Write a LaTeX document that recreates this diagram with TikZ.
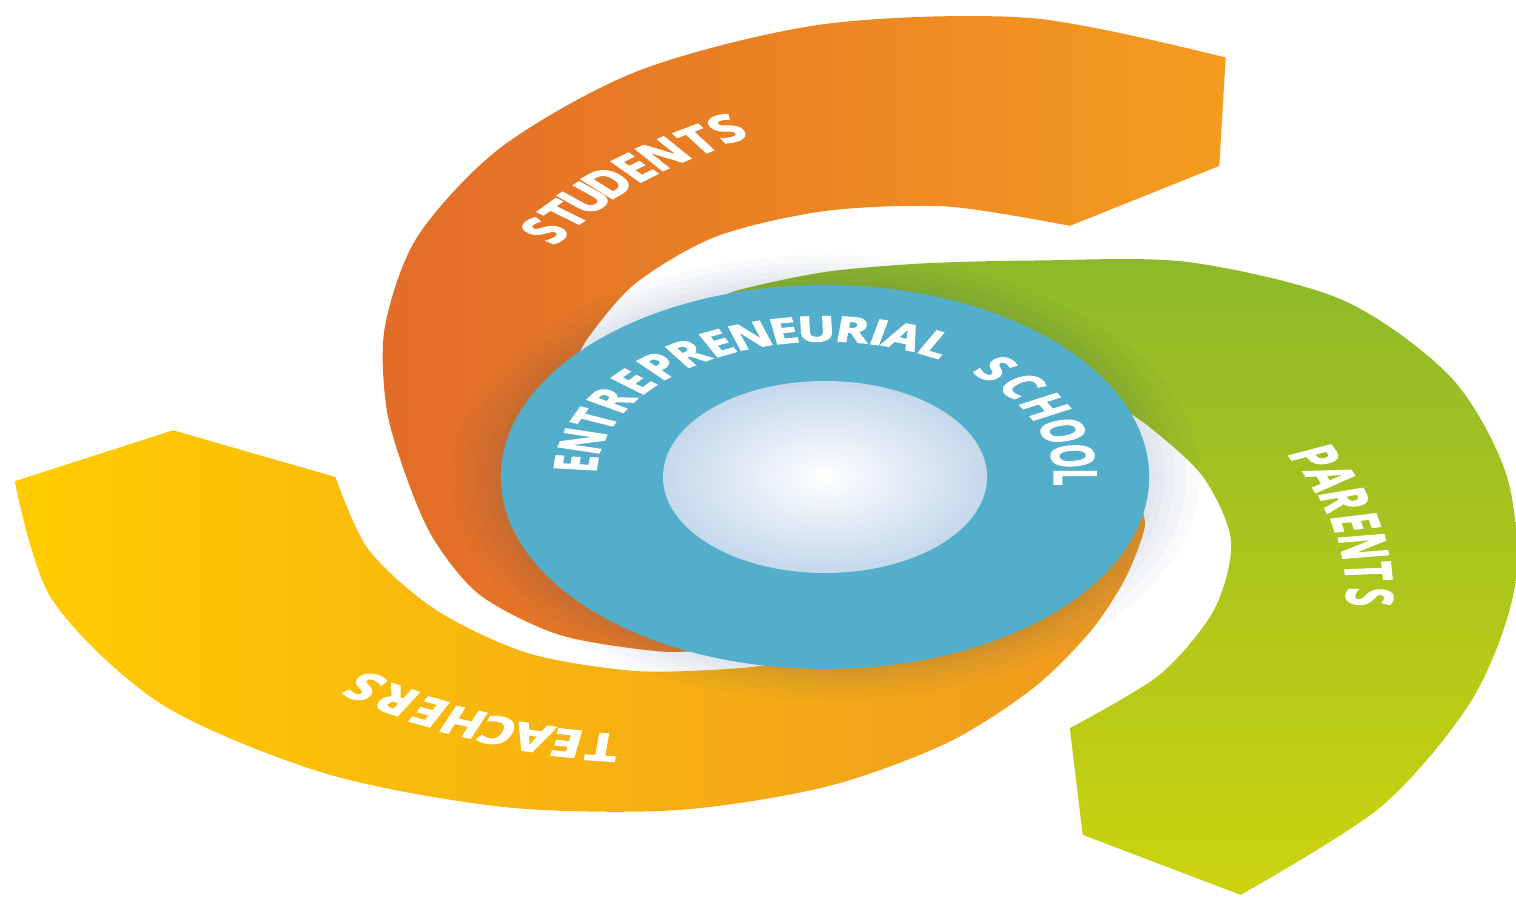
\documentclass[tikz,border=0pt]{standalone}
\usepackage{fontspec}
\setsansfont{Open Sans}[BoldFeatures={FakeBold=2.8}]

\definecolor{ringblue}{RGB}{82,174,203}
\definecolor{diskedge}{RGB}{196,216,236}
\definecolor{orangehead}{RGB}{244,156,30}
\definecolor{orangetail}{RGB}{226,108,40}
\definecolor{yellowhead}{RGB}{255,204,0}
\definecolor{yellowtail}{RGB}{238,152,32}
\definecolor{greenhead}{RGB}{204,211,14}
\definecolor{greentail}{RGB}{141,184,42}
\definecolor{ringshadow}{RGB}{40,80,130}

\tikzset{
  armtext/.style={text=white, font=\fontsize{10.8}{12}\selectfont\sffamily\bfseries,
    inner sep=0pt, text height=7.6pt, text depth=0pt, transform shape},
  ringtext/.style={armtext, font=\fontsize{9.9}{12}\selectfont\sffamily\bfseries,
    text height=7pt},
  orangearm/.style={left color=orangetail, right color=orangehead},
  yellowarm/.style={left color=yellowhead, right color=yellowtail},
  greenarm/.style={top color=greentail, bottom color=greenhead},
}

\begin{document}
\begin{tikzpicture}[xscale=1.6882]
\useasboundingbox (-4.887,-4.21) rectangle (4.093,4.77);

\def\outerring{(0,0) circle (1.92)}
\def\innerdisk{(0,0) circle (0.96)}

% students arm
\shade[orangearm] plot[smooth] coordinates {(60.5:4.82) (75:4.75) (90:4.53) (105:4.215)
    (120:3.82) (135:3.41) (150:3.01) (165:2.69) (180:2.48) (195:2.40) (210:2.36)
    (225:2.23) (240:2.01) (248:1.87)}
  -- (230:1.5) -- (170:1.6)
  -- plot[smooth] coordinates {(145:1.84) (135:1.98) (120:2.24) (105:2.49) (90:2.66)
    (75:2.80) (60:2.90)}
  -- (53.1:3.89) -- cycle;

% teachers arm
\shade[yellowarm] plot[smooth] coordinates {(180.5:4.80) (195:4.74) (210:4.54) (225:4.19)
    (240:3.81) (255:3.45) (270:3.10) (285:2.76) (300:2.45) (315:2.21) (330:2.05)
    (345:1.96) (352:1.88)}
  -- (340:1.5) -- (290:1.6)
  -- plot[smooth] coordinates {(265:1.84) (255:1.98) (240:2.24) (225:2.49) (210:2.66)
    (195:2.80) (180:2.90)}
  -- (173.1:3.89) -- cycle;

% parents arm
\shade[greenarm] plot[smooth] coordinates {(300.5:4.85) (315:4.66) (330:4.43) (345:4.23)
    (360:4.04) (375:3.84) (390:3.54) (405:3.04) (420:2.50) (435:2.21) (450:2.05)
    (465:1.94) (472:1.87)}
  -- (100:1.5) -- (40:1.6)
  -- plot[smooth] coordinates {(25:1.84) (15:1.98) (0:2.24) (-15:2.49) (-30:2.66)
    (-45:2.80) (-60:2.90)}
  -- (-66.9:3.89) -- cycle;

% soft shadow round the ring
\foreach \r in {2.22,2.14,2.07,2.01,1.96}
  \fill[ringshadow, opacity=0.03] (0,0) circle (\r);

\fill[ringblue] \outerring;
\shade[inner color=white, outer color=diskedge] \innerdisk;

% labels
\foreach \ch/\a [count=\i from 0] in {S/124, T/120.4, U/117, D/113.6, E/110.1, N/106.5, T/102.6, S/99.5}
  \node[armtext, rotate=\a-70, xscale=0.86] (students-\i) at (\a:{2.97+0.08*\i}) {\ch};
\foreach \ch [count=\i from 0] in {P,A,R,E,N,T,S}
  \node[armtext, rotate=3.95-4.06*\i-70, xscale=0.86] (parents-\i) at ({3.95-4.06*\i}:{2.906+0.089*\i}) {\ch};
\foreach \ch [count=\i from 0] in {T,E,A,C,H,E,R,S}
  \node[armtext, rotate=243.9-3.76*\i-70, xscale=0.86] (teachers-\i) at ({243.9-3.76*\i}:{3.006+0.062*\i}) {\ch};

\foreach \ch/\a [count=\i] in {E/174.7, N/165.9, T/157, R/148.7, E/140, P/131.5, R/123.4,
    E/115.5, N/107.4, E/99.5, U/92, R/83.7, I/77.5, A/71.6, L/63.6,
    S/47, C/38, H/28.3, O/18.2, O/8.2, L/0}
  \node[ringtext, rotate=\a-90, xscale=0.86] (school-\i) at (\a:1.48) {\ch};
\end{tikzpicture}
\end{document}
